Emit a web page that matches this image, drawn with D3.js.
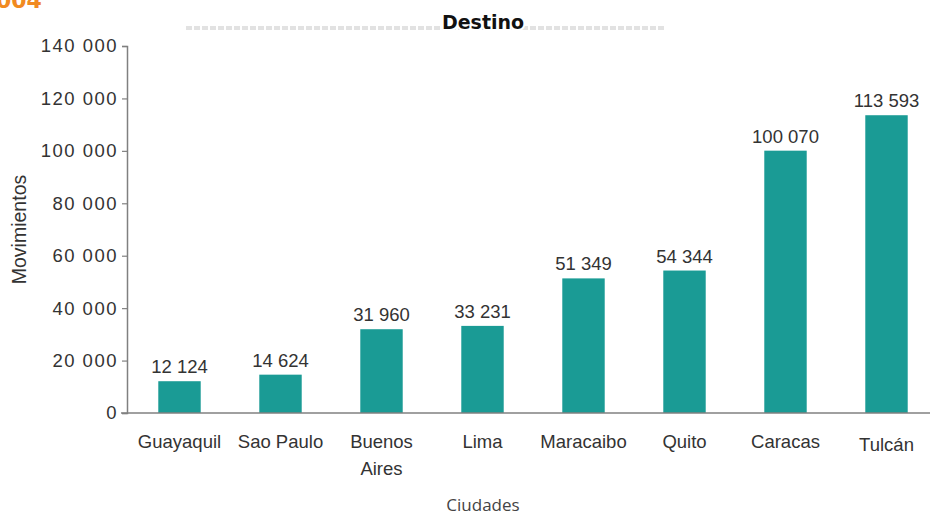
<!DOCTYPE html>
<html>
<head>
<meta charset="utf-8">
<script src="https://cdn.jsdelivr.net/npm/d3@7"></script>
<style>
  body { margin: 0; background: #fff; }
  svg { display: block; }
</style>
</head>
<body>
<div id="chart"></div>
<script>
// data
var ciudades = ["Guayaquil", "Sao Paulo", "Buenos Aires", "Lima", "Maracaibo", "Quito", "Caracas", "Tulcán"];
var movimientos = [12124, 14624, 31960, 33231, 51349, 54344, 100070, 113593];
var yTicks = [0, 20000, 40000, 60000, 80000, 100000, 120000, 140000];

var W = 932, H = 517;
var margin = {top: 46, right: 0, bottom: 104, left: 127};
var barColor = "#1a9b95";
var textColor = "#333";

var fmt = function(v) { return d3.format(",")(v).replace(/,/g, " "); };

var svg = d3.select("#chart")
  .append("svg")
    .attr("width", W)
    .attr("height", H);

// cut off title piece at the top left (partly off the page, as in the source)
svg.append("text")
  .attr("x", -4)
  .attr("y", 8)
  .attr("font-family", "DejaVu Sans")
  .attr("font-weight", "bold")
  .attr("font-size", 22)
  .attr("fill", "#f18a21")
  .text("004");

// faint smear behind the title
svg.append("line")
  .attr("x1", 186).attr("x2", 666)
  .attr("y1", 28).attr("y2", 28)
  .attr("stroke", "#e2e2e2")
  .attr("stroke-width", 4)
  .attr("stroke-dasharray", "6 2");

svg.append("text")
  .attr("x", 483)
  .attr("y", 29)
  .attr("text-anchor", "middle")
  .attr("font-family", "DejaVu Sans")
  .attr("font-weight", "bold")
  .attr("font-size", 19)
  .attr("fill", "#111")
  .style("paint-order", "stroke")
  .attr("stroke", "#fff")
  .attr("stroke-width", 4)
  .text("Destino");

var x = d3.scaleBand()
  .domain(ciudades)
  .range([margin.left + 2, 937])
  .paddingInner(0.58)
  .paddingOuter(0.29);

var y = d3.scaleLinear()
  .domain([0, 140000])
  .range([H - margin.bottom, margin.top]);

// bars
svg.selectAll("rect.bar")
  .data(movimientos)
  .enter()
  .append("rect")
    .attr("class", "bar")
    .attr("x", function(d, i) { return x(ciudades[i]); })
    .attr("y", function(d) { return y(d); })
    .attr("width", x.bandwidth())
    .attr("height", function(d) { return y(0) - y(d); })
    .attr("fill", barColor);

// value labels
svg.selectAll("text.val")
  .data(movimientos)
  .enter()
  .append("text")
    .attr("class", "val")
    .attr("x", function(d, i) { return x(ciudades[i]) + x.bandwidth() / 2; })
    .attr("y", function(d) { return y(d) - 8; })
    .attr("text-anchor", "middle")
    .attr("font-family", "Liberation Sans")
    .attr("font-size", 18.5)
    .attr("fill", textColor)
    .text(fmt);

// y axis
var yAxis = svg.append("g")
  .attr("transform", "translate(" + margin.left + ",0)")
  .call(d3.axisLeft(y).tickValues(yTicks).tickSize(5).tickPadding(4).tickFormat(fmt));
yAxis.select(".domain").attr("stroke", "#808080").attr("stroke-width", 1.5);
yAxis.selectAll(".tick line").attr("stroke", "#808080").attr("stroke-width", 1.2);
yAxis.selectAll(".tick text")
  .attr("font-family", "Liberation Sans")
  .attr("font-size", 18.5)
  .attr("letter-spacing", 1.5)
  .attr("fill", textColor);

// x axis
var xAxis = svg.append("g")
  .attr("transform", "translate(0," + y(0) + ")")
  .call(d3.axisBottom(x).tickSize(0).tickPadding(0));
xAxis.select(".domain")
  .attr("d", "M" + (margin.left - 6) + ",0H930")
  .attr("stroke", "#808080")
  .attr("stroke-width", 1.5);
xAxis.selectAll(".tick text").remove();

// category labels, wrapped on a space for "Buenos Aires"
ciudades.forEach(function(c) {
  var lines = c === "Buenos Aires" ? ["Buenos", "Aires"] : [c];
  var t = svg.append("text")
    .attr("x", x(c) + x.bandwidth() / 2)
    .attr("y", y(0) + 35 + (c === "Tulcán" ? 3 : 0))
    .attr("text-anchor", "middle")
    .attr("font-family", "Liberation Sans")
    .attr("font-size", 18.5)
    .attr("fill", textColor);
  lines.forEach(function(l, i) {
    t.append("tspan")
      .attr("x", x(c) + x.bandwidth() / 2)
      .attr("dy", i === 0 ? 0 : 27)
      .text(l);
  });
});

// axis titles
svg.append("text")
  .attr("transform", "translate(26," + (y(70000)) + ") rotate(-90)")
  .attr("text-anchor", "middle")
  .attr("font-family", "Liberation Sans")
  .attr("font-size", 19.5)
  .attr("fill", textColor)
  .text("Movimientos");

svg.append("text")
  .attr("x", 483)
  .attr("y", 511)
  .attr("text-anchor", "middle")
  .attr("font-family", "Open Sans")
  .attr("font-size", 17)
  .attr("fill", "#444")
  .text("Ciudades");
</script>
</body>
</html>
